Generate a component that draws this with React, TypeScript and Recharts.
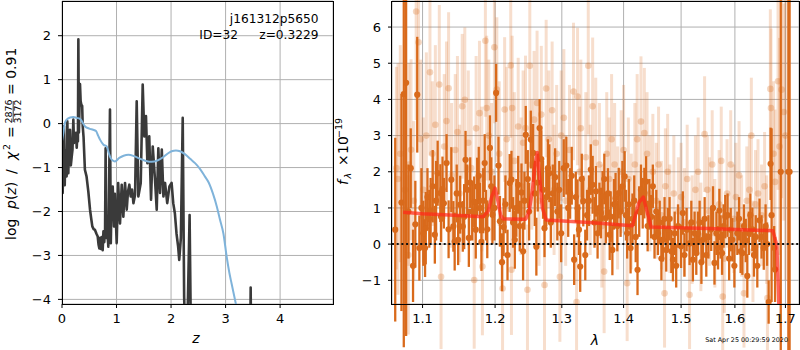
import {
  CartesianGrid,
  ComposedChart,
  ErrorBar,
  Line,
  ReferenceLine,
  Scatter,
  XAxis,
  YAxis,
} from "recharts";

// ---- left panel: log p(z) ----
const pzZ = [
  0.0, 0.012, 0.025, 0.037, 0.05, 0.062, 0.073, 0.085, 0.098, 0.116, 0.13, 0.147, 0.162, 0.178, 0.192,
  0.208, 0.22, 0.235, 0.257, 0.27, 0.28, 0.292, 0.3, 0.31, 0.318, 0.33, 0.342, 0.355, 0.37, 0.38, 0.395,
  0.42, 0.45, 0.483, 0.514, 0.54, 0.556, 0.58, 0.605, 0.63, 0.655, 0.67, 0.685, 0.7, 0.715, 0.73, 0.746,
  0.76, 0.775, 0.79, 0.8, 0.812, 0.825, 0.85, 0.88, 0.895, 0.91, 0.93, 0.954, 0.97, 0.985, 1.003, 1.03,
  1.064, 1.095, 1.125, 1.156, 1.187, 1.21, 1.235, 1.26, 1.285, 1.31, 1.34, 1.37, 1.4, 1.444, 1.48, 1.51,
  1.54, 1.566, 1.6, 1.633, 1.664, 1.706, 1.737, 1.767, 1.798, 1.83, 1.86, 1.89, 1.93, 1.97, 2.01, 2.04,
  2.07, 2.1, 2.13, 2.15, 2.18, 2.214, 2.24, 2.27, 2.3, 2.34, 2.37, 2.5, 3.0, 3.44, 3.46, 3.48, 4.0,
];
const pzLog = [
  -1.45, -1.58, -0.9, -0.06, -1.4, -0.6, -0.75, -1.2, 0.05, -1.13, -0.3, -0.14, -0.95, -0.75, -0.6,
  0.09, -0.44, -0.35, -0.21, -0.55, -0.3, -0.4, 1.92, -0.2, 0.24, 0.9, 0.51, 0.43, 0.4, -0.06, -0.3,
  -1.05, -1.2, -1.55, -1.96, -2.2, -2.34, -2.4, -2.42, -2.5, -2.57, -2.75, -2.84, -2.6, -2.85, -2.58, -2.88,
  -2.45, -2.7, -2.4, -0.56, -2.6, -2.3, -2.8, 0.32, -2.72, -1.7, -1.43, -2.34, -1.6, -2.1, -2.72, -1.35,
  -2.27, -1.39, -2.12, -1.35, -1.96, -1.55, -1.39, -1.66, -1.5, -1.81, -1.62, 0.51, -1.66, -1.35, 0.89, -0.29,
  0.17, -0.9, -0.29, -1.73, -0.52, -1.28, -1.96, -0.56, -1.58, -0.59, -1.66, -1.35, -1.81, -1.43, -1.35, -1.81,
  -2.04, -2.5, -2.8, -3.1, -2.6, 0.13, -3.94, -5.5, -4.6, -2.08, -5.5, -7.0, -8.0, -7.0, -3.73, -7.0, -9.0,
];
const priorZ = [
  0.0, 0.025, 0.05, 0.086, 0.15, 0.208, 0.27, 0.33, 0.38, 0.42, 0.47, 0.514, 0.57, 0.624, 0.665, 0.7,
  0.76, 0.82, 0.86, 0.89, 0.93, 0.97, 1.05, 1.13, 1.22, 1.32, 1.43, 1.54, 1.645, 1.75, 1.86, 1.94, 2.01,
  2.09, 2.165, 2.26, 2.35, 2.44, 2.53, 2.62, 2.69, 2.77, 2.84, 2.9, 2.96, 3.02, 3.07, 3.11, 3.19, 3.3,
];
const priorLog = [
  -0.4, -0.21, 0.0, 0.09, 0.14, 0.15, 0.13, 0.11, 0.02, -0.06, -0.1, -0.12, -0.14, -0.17, -0.28, -0.37,
  -0.48, -0.52, -0.68, -0.78, -0.84, -0.86, -0.78, -0.73, -0.71, -0.74, -0.8, -0.85, -0.87, -0.84, -0.76, -0.68, -0.63,
  -0.61, -0.63, -0.7, -0.8, -0.9, -1.03, -1.2, -1.34, -1.6, -1.89, -2.2, -2.5, -3.03, -3.4, -3.64, -4.11, -4.8,
];
const zTicks = [0, 1, 2, 3, 4];
const logTicks = [-4, -3, -2, -1, 0, 1, 2];

// ---- right panel: spectrum ----
const darkLam = [
  1.0645, 1.0725, 1.0755, 1.0785, 1.0815, 1.0845, 1.0875, 1.0905, 1.093, 1.0958, 1.0985, 1.101, 1.1033, 1.1042,
  1.1065, 1.1089, 1.1107, 1.1135, 1.1163, 1.118, 1.1201, 1.1237, 1.1247, 1.1266, 1.1285, 1.1321, 1.1349, 1.1386,
  1.1414, 1.1432, 1.146, 1.148, 1.1508, 1.1544, 1.1563, 1.1582, 1.1605, 1.1628, 1.1647, 1.1675, 1.1703, 1.1725,
  1.1745, 1.1767, 1.1785, 1.1805, 1.183, 1.1851, 1.187, 1.1888, 1.1926, 1.1945, 1.1962, 1.199, 1.2015, 1.2049,
  1.207, 1.21, 1.2123, 1.215, 1.218, 1.2212, 1.2238, 1.2262, 1.2287, 1.231, 1.2337, 1.236, 1.2386, 1.241, 1.243,
  1.245, 1.248, 1.25, 1.2525, 1.256, 1.2585, 1.2609, 1.263, 1.2658, 1.2684, 1.271, 1.2733, 1.276, 1.2785, 1.2807,
  1.283, 1.286, 1.2896, 1.293, 1.296, 1.299, 1.303, 1.3071, 1.31, 1.313, 1.3156, 1.3194, 1.322, 1.3248, 1.327,
  1.329, 1.3315, 1.3339, 1.3371, 1.34, 1.343, 1.346, 1.349, 1.352, 1.3544, 1.357, 1.36, 1.3624, 1.3652, 1.368,
  1.3705, 1.374, 1.3769, 1.3785, 1.3813, 1.384, 1.3866, 1.3895, 1.3919, 1.395, 1.398, 1.4018, 1.404, 1.406,
  1.409, 1.4118, 1.415, 1.418, 1.4205, 1.4236, 1.4265, 1.4295, 1.4325, 1.4353, 1.4383, 1.441, 1.444, 1.4471,
  1.45, 1.4529, 1.456, 1.4589, 1.462, 1.465, 1.4677, 1.4705, 1.4735, 1.4765, 1.4794, 1.4825, 1.4854, 1.4885,
  1.4912, 1.4945, 1.5, 1.5031, 1.506, 1.51, 1.5153, 1.5185, 1.5214, 1.5245, 1.5276, 1.5307, 1.5337, 1.537,
  1.54, 1.543, 1.546, 1.55, 1.5552, 1.5585, 1.5613, 1.565, 1.568, 1.5705, 1.573, 1.5755, 1.5785, 1.5816, 1.586,
  1.589, 1.592, 1.5952, 1.599, 1.6047, 1.608, 1.611, 1.6144, 1.6175, 1.621, 1.624, 1.627, 1.63, 1.6339, 1.637,
  1.6405, 1.6436, 1.648, 1.652, 1.6564, 1.66, 1.663, 1.6661, 1.67, 1.672, 1.6772, 1.679, 1.6905, 1.706, 1.7085,
];
const darkFlux = [
  0.4, 1.15, 4.15, 4.46, 0.9, 2.1, -0.6, 0.55, 4.13, -0.11, 1.0, 0.3, -0.11, 0.44,
  1.3, 0.7, 0.93, 1.6, 0.26, 1.2, 1.96, 1.41, 0.76, 1.52, 1.13, 2.24, 0.41, 1.78,
  0.49, 0.07, 1.4, 0.12, 1.09, 0.49, 0.76, 2.33, 1.5, 0.17, 1.7, 0.9, 1.17, 0.4,
  1.59, 1.89, 1.0, 0.06, 1.2, 2.24, 0.8, 0.41, 2.66, 1.6, 0.81, 1.0, 4.18, 2.17,
  0.63, -0.5, 0.47, 1.1, -0.3, 1.69, 1.78, 0.6, 0.12, 1.0, 1.64, 0.5, 1.43, -0.2, 1.2,
  3.02, 1.8, 0.9, 2.89, 2.52, 1.4, -0.07, 1.7, 3.21, 2.35, 1.5, 0.44, 1.3, 2.1, 1.96,
  0.6, 1.4, 1.85, 0.9, 1.5, 0.3, 2.1, 2.17, 1.0, 1.4, 1.89, -0.43, 1.3, 0.99, 0.4,
  -0.62, 1.8, 1.19, -0.3, 0.8, 1.2, 2.06, 1.64, 0.6, 1.46, 0.3, 1.0, 0.86, 1.32, 1.8,
  0.72, 1.4, 0.26, 0.76, -0.16, 1.1, 1.27, 0.5, 1.41, 0.9, 1.6, 1.87, 0.8, 0.3,
  1.1, -0.11, 0.7, 1.2, 0.2, -0.71, 0.9, 1.5, 1.13, 1.41, 1.73, 0.5, 1.1, 0.76,
  1.6, 0.2, 0.9, 0.3, 0.6, -0.4, 0.12, 0.7, -0.16, 0.4, 0.7, -0.2, -0.43, 0.3,
  -0.6, 0.5, -0.06, 0.86, -0.3, 0.4, 0.02, 0.6, -0.43, 0.3, -0.25, 0.3, 0.6, -0.5,
  0.12, 0.7, -0.3, 0.2, 0.41, 1.0, -0.52, 0.3, -0.1, 0.93, 0.2, -0.25, 0.5, 0.76, 0.8,
  -0.4, 0.4, 0.12, -0.6, 0.3, 0.7, -0.2, -0.25, 0.5, 0.1, -0.88, 0.3, 0.8, 0.41, -0.3,
  0.2, -0.6, 0.66, 0.2, -0.11, 0.5, 0.0, -1.6, 2.22, 0.8, -0.1, -0.7, 2.0, 2.0, 2.0,
];
const darkErr = [
  2.54, 3.0, 7.0, 7.0, 1.3, 1.1, 1.0, 1.2, 1.6, 0.9, 1.1, 0.9, 0.8, 1.0,
  0.8, 0.8, 0.9, 1.0, 0.8, 1.1, 0.9, 0.8, 0.7, 0.9, 0.7, 0.8, 0.8, 0.9,
  0.7, 0.8, 0.8, 0.7, 0.8, 0.7, 0.9, 0.8, 0.7, 0.8, 0.7, 0.8, 0.7, 0.8,
  0.8, 0.8, 0.7, 0.8, 0.9, 0.8, 0.7, 0.8, 0.9, 0.8, 0.8, 0.9, 0.8, 0.8,
  0.7, 0.8, 0.8, 0.8, 0.7, 0.8, 0.8, 0.7, 0.8, 0.8, 0.8, 0.7, 0.8, 0.8, 0.8,
  0.8, 0.8, 0.8, 0.8, 0.8, 0.9, 0.8, 0.8, 0.8, 0.8, 0.8, 0.8, 0.8, 0.8, 0.8,
  0.7, 0.8, 0.8, 0.8, 0.8, 0.8, 0.8, 0.8, 0.8, 0.7, 0.8, 0.7, 0.7, 0.8, 0.7,
  0.7, 0.7, 0.7, 0.7, 0.7, 0.7, 0.7, 0.8, 0.7, 0.7, 0.7, 0.7, 0.7, 0.7, 0.7,
  0.7, 0.7, 0.7, 0.7, 0.7, 0.7, 0.7, 0.7, 0.7, 0.7, 0.7, 0.7, 0.7, 0.7,
  0.7, 0.7, 0.7, 0.7, 0.7, 0.7, 0.7, 0.7, 0.7, 0.7, 0.7, 0.7, 0.7, 0.6,
  0.6, 0.6, 0.6, 0.6, 0.6, 0.6, 0.6, 0.6, 0.6, 0.6, 0.6, 0.6, 0.6, 0.6,
  0.6, 0.6, 0.6, 0.6, 0.6, 0.6, 0.6, 0.6, 0.6, 0.6, 0.6, 0.6, 0.6, 0.6,
  0.6, 0.6, 0.6, 0.6, 0.6, 0.6, 0.6, 0.6, 0.6, 0.6, 0.6, 0.6, 0.6, 0.6, 0.6,
  0.6, 0.6, 0.6, 0.6, 0.6, 0.6, 0.6, 0.6, 0.6, 0.6, 0.6, 0.6, 0.6, 0.6, 0.6,
  0.6, 0.6, 0.6, 0.6, 0.6, 0.6, 0.6, 0.6, 1.0, 2.4, 0.6, 0.9, 7.0, 8.0, 8.0,
];

const lightLam = [
  1.066, 1.068, 1.071, 1.077, 1.0813, 1.082, 1.0849, 1.0885, 1.0916, 1.0947, 1.0975, 1.101, 1.105, 1.1098,
  1.113, 1.117, 1.1223, 1.1247, 1.129, 1.132, 1.1349, 1.139, 1.144, 1.147, 1.15, 1.1536, 1.1572, 1.162,
  1.166, 1.1703, 1.173, 1.1777, 1.181, 1.1819, 1.1861, 1.1879, 1.191, 1.195, 1.199, 1.2025, 1.206, 1.2108,
  1.2138, 1.217, 1.2227, 1.2238, 1.2248, 1.228, 1.2337, 1.238, 1.241, 1.2446, 1.2475, 1.251, 1.254, 1.2575,
  1.262, 1.265, 1.2684, 1.2733, 1.2758, 1.28, 1.285, 1.288, 1.292, 1.297, 1.299, 1.3032, 1.306, 1.312,
  1.3184, 1.3232, 1.3248, 1.328, 1.33, 1.338, 1.3419, 1.345, 1.349, 1.354, 1.36, 1.364, 1.3677, 1.372,
  1.376, 1.38, 1.385, 1.39, 1.396, 1.4, 1.406, 1.408, 1.413, 1.419, 1.423, 1.4295, 1.4353, 1.44, 1.445,
  1.45, 1.456, 1.46, 1.465, 1.4705, 1.472, 1.476, 1.48, 1.487, 1.495, 1.5, 1.506, 1.511, 1.5153, 1.52,
  1.526, 1.531, 1.536, 1.5429, 1.548, 1.552, 1.557, 1.562, 1.57, 1.574, 1.5768, 1.58, 1.585, 1.592, 1.598,
  1.602, 1.608, 1.613, 1.6175, 1.623, 1.628, 1.6319, 1.635, 1.64, 1.645, 1.652, 1.658, 1.662, 1.6637,
  1.6695, 1.6708, 1.676, 1.679, 1.685, 1.688, 1.6922, 1.6967, 1.7,
];
const lightFlux = [
  2.1, 1.8, 2.5, 1.5, -0.3, 2.2, 2.61, 1.2, 6.43, 5.58, 2.9, 1.5, 3.0, 4.75,
  2.5, 3.3, 4.41, -0.9, 2.7, 3.4, 4.31, 1.9, 2.6, 3.1, 1.4, 3.81, 3.99, 2.8,
  2.1, -0.99, 3.2, 3.62, 1.8, -0.62, 5.62, 3.76, 3.0, 2.0, 5.44, 4.27, 2.5, -1.23,
  3.72, 2.9, 4.94, -0.71, 3.76, 2.3, 3.25, 1.6, 2.8, 3.21, -1.26, 4.93, 2.2, 3.44,
  3.9, 1.2, 3.58, -1.13, 4.3, 2.9, 3.7, 1.5, 2.5, -0.9, 3.0, 3.49, 1.2, 2.6,
  4.22, -1.6, 4.08, 2.0, 3.2, 2.4, 4.93, 1.5, 3.81, 2.8, 2.2, 0.5, -0.76, 2.5,
  1.8, 2.9, 2.2, 1.0, 2.0, 2.6, -1.08, 1.8, 0.9, 2.2, 2.9, 3.39, 3.07, 2.5, 1.4,
  2.0, 1.2, 2.2, 0.8, -1.36, 1.6, 2.0, 0.7, 1.4, 0.9, 1.3, 0.6, 1.8, -1.4, 0.4,
  1.5, 2.0, 0.2, 3.04, 1.5, 0.9, 2.2, 0.3, 1.1, 2.3, -1.45, -0.4, 1.4, 2.2, 0.7,
  1.3, 1.9, 0.5, -1.36, 1.2, 1.5, 3.0, -0.2, 1.1, 1.4, 0.8, 1.6, 0.4, -1.49,
  4.29, 3.76, 2.5, 1.72, 4.5, 2.7, 4.27, 3.65, 3.0,
];
const lightErr = [
  2.8, 3.2, 3.0, 3.5, 2.2, 2.8, 2.5, 2.2, 3.0, 2.6, 2.2, 2.0, 2.3, 2.3,
  2.0, 2.2, 2.2, 2.0, 2.0, 2.2, 2.1, 2.0, 2.1, 2.1, 1.9, 2.0, 2.0, 2.0,
  1.9, 1.9, 2.0, 2.0, 2.0, 1.9, 2.1, 2.0, 2.1, 1.9, 2.1, 2.0, 2.0, 1.8,
  2.0, 2.0, 2.0, 1.8, 2.0, 1.9, 1.9, 1.9, 2.0, 2.0, 1.8, 2.0, 1.8, 1.9,
  2.0, 1.8, 1.9, 1.8, 1.9, 1.9, 1.9, 1.8, 1.9, 1.8, 1.8, 1.9, 1.8, 1.8,
  1.9, 1.7, 1.9, 1.8, 1.9, 1.8, 1.9, 1.8, 1.9, 1.8, 1.7, 1.7, 1.7, 1.7,
  1.7, 1.8, 1.7, 1.7, 1.7, 1.8, 1.6, 1.7, 1.6, 1.7, 1.8, 1.8, 1.8, 1.7, 1.6,
  1.6, 1.6, 1.6, 1.5, 1.5, 1.6, 1.6, 1.5, 1.6, 1.5, 1.5, 1.5, 1.5, 1.5, 1.5,
  1.5, 1.5, 1.5, 1.6, 1.5, 1.5, 1.5, 1.5, 1.5, 1.5, 1.5, 1.5, 1.5, 1.5, 1.5,
  1.5, 1.5, 1.4, 1.5, 1.5, 1.5, 1.6, 1.4, 1.5, 1.5, 1.4, 1.5, 1.5, 1.5,
  2.2, 2.2, 2.0, 2.0, 3.0, 3.0, 3.0, 3.0, 4.0,
];

const modelLam = [
  1.0747, 1.1, 1.15, 1.1829, 1.19, 1.195, 1.2, 1.204, 1.208, 1.2114, 1.245, 1.25, 1.255, 1.259, 1.2624,
  1.266, 1.27, 1.2758, 1.35, 1.4148, 1.42, 1.426, 1.4336, 1.44, 1.4471, 1.55, 1.6747, 1.6825, 1.687,
];
const modelFlux = [
  0.88, 0.84, 0.79, 0.76, 0.9, 1.3, 1.55, 1.2, 0.8, 0.7, 0.69, 0.9, 1.5, 2.2, 2.53,
  1.8, 1.0, 0.67, 0.59, 0.51, 0.8, 1.15, 1.3, 0.9, 0.47, 0.43, 0.37, -0.03, -1.8,
];
const lamTicks = [1.1, 1.2, 1.3, 1.4, 1.5, 1.6, 1.7];
const fluxTicks = [-1, 0, 1, 2, 3, 4, 5, 6];

const FONT = "DejaVu Sans, sans-serif";
const ORANGE = "#d96a1b";
const LIGHT = "rgba(217,106,27,0.22)";
const LIGHT_DOT = "rgba(217,106,27,0.28)";
const LAM_DOMAIN: [number, number] = [1.0604, 1.7279];
const FLUX_DOMAIN: [number, number] = [-1.655, 6.72];

const pairs = (xs: number[], ys: number[], es?: number[]) =>
  xs.map((x, i) => ({ x, y: ys[i], err: es ? es[i] : 0 }));

const minus = (v: number) => (v < 0 ? "\u2212" + Math.abs(v) : String(v));

const dot = (fill: string, r: number) => (p: any) => <circle cx={p.cx} cy={p.cy} r={r} fill={fill} />;

const tickStyle = { fontSize: 13, fill: "#000", fontFamily: FONT };

function PzPanel() {
  return (
    <ComposedChart width={340} height={350} margin={{ top: 1, right: 7, bottom: 16, left: 22 }}>
      <CartesianGrid stroke="#b0b0b0" strokeWidth={1} />
      <XAxis
        type="number"
        dataKey="x"
        domain={[0, 4.97]}
        ticks={zTicks}
        interval={0}
        allowDataOverflow
        height={30}
        axisLine={false}
        tickSize={4}
        tickMargin={6}
        tickLine={{ stroke: "#000" }}
        tick={tickStyle}
      />
      <YAxis
        type="number"
        dataKey="y"
        domain={[-4.105, 2.79]}
        ticks={logTicks}
        interval={0}
        allowDataOverflow
        width={40}
        axisLine={false}
        tickSize={4}
        tickMargin={7}
        tickLine={{ stroke: "#000" }}
        tick={tickStyle}
        tickFormatter={minus}
      />
      <Line
        data={pairs(pzZ, pzLog)}
        dataKey="y"
        type="linear"
        stroke="#3a3a3a"
        strokeWidth={2.6}
        strokeLinejoin="round"
        dot={false}
        isAnimationActive={false}
      />
      <Line
        data={pairs(priorZ, priorLog)}
        dataKey="y"
        type="monotone"
        stroke="#7fb3da"
        strokeWidth={2}
        dot={false}
        isAnimationActive={false}
      />
    </ComposedChart>
  );
}

function SpecPanel() {
  return (
    <ComposedChart width={460} height={350} margin={{ top: 1, right: 1, bottom: 16, left: 12 }}>
      <CartesianGrid stroke="#b0b0b0" strokeWidth={1} />
      <XAxis
        type="number"
        dataKey="x"
        scale="log"
        domain={LAM_DOMAIN}
        ticks={lamTicks}
        interval={0}
        allowDataOverflow
        height={30}
        axisLine={false}
        tickSize={4}
        tickMargin={6}
        tickLine={{ stroke: "#000" }}
        tick={tickStyle}
      />
      <YAxis
        type="number"
        dataKey="y"
        domain={FLUX_DOMAIN}
        ticks={fluxTicks}
        interval={0}
        allowDataOverflow
        width={40}
        axisLine={false}
        tickSize={4}
        tickMargin={7}
        tickLine={{ stroke: "#000" }}
        tick={tickStyle}
        tickFormatter={minus}
      />
      <Scatter data={pairs(lightLam, lightFlux, lightErr)} shape={dot(LIGHT_DOT, 3.3)} isAnimationActive={false}>
        <ErrorBar dataKey="err" direction="y" width={0} stroke={LIGHT} strokeWidth={3} isAnimationActive={false} />
      </Scatter>
      <Scatter data={pairs(darkLam, darkFlux, darkErr)} shape={dot(ORANGE, 3.1)} isAnimationActive={false}>
        <ErrorBar dataKey="err" direction="y" width={0} stroke={ORANGE} strokeWidth={2.3} isAnimationActive={false} />
      </Scatter>
    </ComposedChart>
  );
}

// model line and zero line, drawn on top of the points with the same axes
function SpecOverlay() {
  return (
    <ComposedChart width={460} height={350} margin={{ top: 1, right: 1, bottom: 46, left: 52 }}>
      <XAxis type="number" dataKey="x" scale="log" domain={LAM_DOMAIN} allowDataOverflow hide />
      <YAxis type="number" dataKey="y" domain={FLUX_DOMAIN} allowDataOverflow hide />
      <Line
        data={pairs(modelLam, modelFlux)}
        dataKey="y"
        type="linear"
        stroke="#ff2a1a"
        strokeOpacity={0.72}
        strokeWidth={3.5}
        strokeLinejoin="round"
        dot={false}
        isAnimationActive={false}
      />
      <ReferenceLine y={0} stroke="#111" strokeWidth={2} strokeDasharray="2 2.7" />
    </ComposedChart>
  );
}

function Labels() {
  return (
    <svg width={800} height={350} style={{ position: "absolute", left: 0, top: 0, pointerEvents: "none", fontFamily: FONT }}>
      {/* left y label */}
      <g transform="translate(16,240) rotate(-90)" fontSize={14} fill="#000">
        <text x={0} y={0}>log</text>
        <text x={31} y={0}>
          <tspan fontStyle="italic">p</tspan>(<tspan fontStyle="italic">z</tspan>)
        </text>
        <text x={66} y={0}>/</text>
        <text x={80} y={0} fontStyle="italic">χ</text>
        <text x={90} y={-6} fontSize={9.5}>2</text>
        <text x={102} y={0}>=</text>
        <text x={128.5} y={-4.5} fontSize={9.5} textAnchor="middle">2876</text>
        <line x1={118} x2={139} y1={-2.8} y2={-2.8} stroke="#000" strokeWidth={0.8} />
        <text x={128.5} y={5} fontSize={9.5} textAnchor="middle">3172</text>
        <text x={145} y={0}>= 0.91</text>
      </g>
      <text x={196} y={343} fontSize={14} fontStyle="italic" textAnchor="middle">z</text>
      <text x={318.5} y={23} fontSize={12.2} textAnchor="end">j161312p5650</text>
      <text x={199.3} y={38.5} fontSize={12.2}>ID=32</text>
      <text x={318.5} y={38.5} fontSize={12.2} textAnchor="end">z=0.3229</text>

      {/* right y label */}
      <g transform="translate(348,185) rotate(-90)" fontSize={14} fill="#000">
        <text x={0} y={0} fontStyle="italic">f</text>
        <text x={6.5} y={3} fontSize={9.5} fontStyle="italic">λ</text>
        <text x={19} y={0}>×</text>
        <text x={31} y={0}>10</text>
        <text x={47} y={-6} fontSize={9.5}>−19</text>
      </g>
      <text x={595} y={345} fontSize={14} fontStyle="italic" textAnchor="middle">λ</text>
      <text x={788} y={342} fontSize={6.4} textAnchor="end">Sat Apr 25 00:29:59 2020</text>
    </svg>
  );
}

export default function App() {
  return (
    <div style={{ position: "absolute", left: 0, top: 0, width: 800, height: 350, background: "#fff", fontFamily: FONT }}>
      <div style={{ position: "absolute", left: 0, top: 0 }}>
        <PzPanel />
      </div>
      <div style={{ position: "absolute", left: 340, top: 0 }}>
        <SpecPanel />
      </div>
      <div style={{ position: "absolute", left: 340, top: 0 }}>
        <SpecOverlay />
      </div>
      <div style={{ position: "absolute", left: 62, top: 1, width: 272, height: 304, boxSizing: "border-box", border: "1px solid #000", pointerEvents: "none" }} />
      <div style={{ position: "absolute", left: 391, top: 1, width: 409, height: 304, boxSizing: "border-box", border: "1px solid #000", pointerEvents: "none" }} />
      <Labels />
    </div>
  );
}
